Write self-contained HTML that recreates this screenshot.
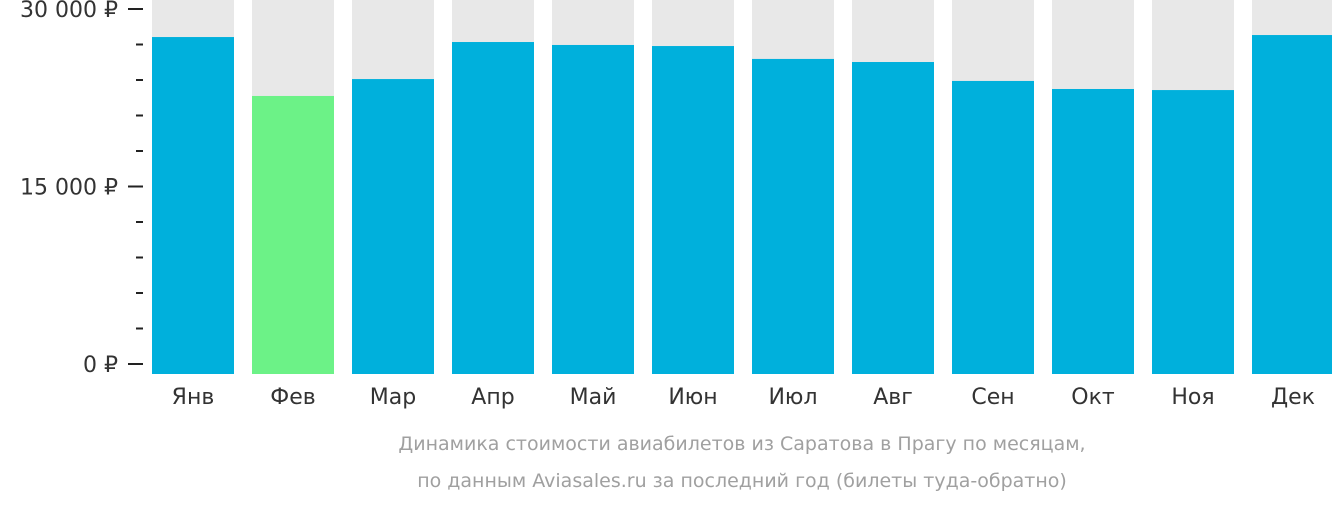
<!DOCTYPE html>
<html><head><meta charset="utf-8"><style>
body{margin:0;background:#fff;width:1332px;height:502px;overflow:hidden;font-family:"Liberation Sans","DejaVu Sans",sans-serif}
svg text{font-family:"DejaVu Sans","Liberation Sans",sans-serif}
</style></head><body>
<svg id="c" width="1332" height="502" xmlns="http://www.w3.org/2000/svg">
<g id="bars"></g>
<g id="axis"></g>
<g id="xl"></g>
<text x="742" y="450" text-anchor="middle" font-size="19" fill="#a0a0a0">Динамика стоимости авиабилетов из Саратова в Прагу по месяцам,</text>
<text x="742" y="487" text-anchor="middle" font-size="19" fill="#a0a0a0">по данным Aviasales.ru за последний год (билеты туда-обратно)</text>
</svg>
<script>
const months=["Янв","Фев","Мар","Апр","Май","Июн","Июл","Авг","Сен","Окт","Ноя","Дек"];
const prices=[27630,22650,24080,27210,26960,26870,25780,25520,23920,23240,23150,27800];
const highlight=[false,true,false,false,false,false,false,false,false,false,false,false];
const majorTicks=[0,15000,30000];
const majorLabels=["0 ₽","15 000 ₽","30 000 ₽"];
const minorStep=3000;
const NS="http://www.w3.org/2000/svg";
const y=v=>364-v/30000*355;
const x=i=>152+i*100;
function mk(t,a,p){const e=document.createElementNS(NS,t);for(const k in a)e.setAttribute(k,a[k]);p.appendChild(e);return e;}
const bars=document.getElementById('bars'),ax=document.getElementById('axis'),xl=document.getElementById('xl');
months.forEach((m,i)=>{
  const bg=mk('rect',{x:x(i),y:0,width:82,height:374,fill:'#e8e8e8'},bars);
  
  
  const r=mk('rect',{x:x(i),y:y(prices[i]),width:82,height:374-y(prices[i]),fill:highlight[i]?'#6cf287':'#00b0dc'},bars);
  
  
  const t=mk('text',{x:x(i)+41,y:404,'text-anchor':'middle','font-size':22,fill:'#333'},xl);
  t.textContent=m;
  
  
});
for(let v=0;v<=30000;v+=minorStep){
  const major=majorTicks.indexOf(v);
  const l=mk('line',{x1:major>=0?128:136,x2:143,y1:y(v),y2:y(v),stroke:'#222','stroke-width':2},ax);
  
  
  if(major>=0){
    const t=mk('text',{x:118,y:y(v)+8,'text-anchor':'end','font-size':22,fill:'#333'},ax);
    t.textContent=majorLabels[major];
    
    
  }
}
</script>
</body></html>
